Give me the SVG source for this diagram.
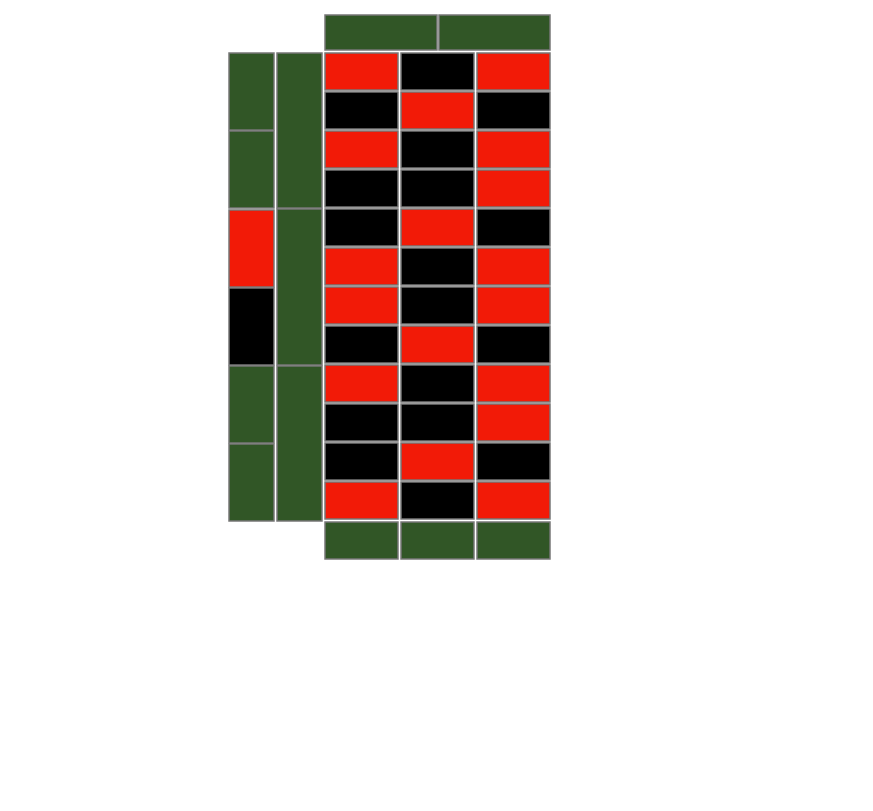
<svg xmlns="http://www.w3.org/2000/svg" width="873" height="811" viewBox="0 0 873 811">
<style>
rect{stroke:#777;stroke-width:1.5}
.g{fill:#315626}.r{fill:#f21a07}.b{fill:#000}
</style>
<rect x="0" y="0" width="873" height="811" fill="#fff" style="stroke:none"/>
<g id="top">
<rect class="g" x="325" y="15" width="112" height="35"/>
<rect class="g" x="439" y="15" width="111" height="35"/>
</g>
<g id="left-outer">
<rect class="g" x="229" y="53" width="45" height="77"/>
<rect class="g" x="229" y="131" width="45" height="77"/>
<rect class="r" x="229" y="210" width="45" height="77"/>
<rect class="b" x="229" y="288" width="45" height="77"/>
<rect class="g" x="229" y="366" width="45" height="77"/>
<rect class="g" x="229" y="444" width="45" height="77"/>
</g>
<g id="left-inner">
<rect class="g" x="277" y="53" width="45" height="155"/>
<rect class="g" x="277" y="209" width="45" height="156"/>
<rect class="g" x="277" y="366" width="45" height="155"/>
</g>
<g id="grid">
<rect class="r" x="325" y="53" width="73" height="37"/><rect class="b" x="401" y="53" width="73" height="37"/><rect class="r" x="477" y="53" width="73" height="37"/>
<rect class="b" x="325" y="92" width="73" height="37"/><rect class="r" x="401" y="92" width="73" height="37"/><rect class="b" x="477" y="92" width="73" height="37"/>
<rect class="r" x="325" y="131" width="73" height="37"/><rect class="b" x="401" y="131" width="73" height="37"/><rect class="r" x="477" y="131" width="73" height="37"/>
<rect class="b" x="325" y="170" width="73" height="37"/><rect class="b" x="401" y="170" width="73" height="37"/><rect class="r" x="477" y="170" width="73" height="37"/>
<rect class="b" x="325" y="209" width="73" height="37"/><rect class="r" x="401" y="209" width="73" height="37"/><rect class="b" x="477" y="209" width="73" height="37"/>
<rect class="r" x="325" y="248" width="73" height="37"/><rect class="b" x="401" y="248" width="73" height="37"/><rect class="r" x="477" y="248" width="73" height="37"/>
<rect class="r" x="325" y="287" width="73" height="37"/><rect class="b" x="401" y="287" width="73" height="37"/><rect class="r" x="477" y="287" width="73" height="37"/>
<rect class="b" x="325" y="326" width="73" height="37"/><rect class="r" x="401" y="326" width="73" height="37"/><rect class="b" x="477" y="326" width="73" height="37"/>
<rect class="r" x="325" y="365" width="73" height="37"/><rect class="b" x="401" y="365" width="73" height="37"/><rect class="r" x="477" y="365" width="73" height="37"/>
<rect class="b" x="325" y="404" width="73" height="37"/><rect class="b" x="401" y="404" width="73" height="37"/><rect class="r" x="477" y="404" width="73" height="37"/>
<rect class="b" x="325" y="443" width="73" height="37"/><rect class="r" x="401" y="443" width="73" height="37"/><rect class="b" x="477" y="443" width="73" height="37"/>
<rect class="r" x="325" y="482" width="73" height="37"/><rect class="b" x="401" y="482" width="73" height="37"/><rect class="r" x="477" y="482" width="73" height="37"/>
</g>
<g id="bottom">
<rect class="g" x="325" y="522" width="73" height="37"/><rect class="g" x="401" y="522" width="73" height="37"/><rect class="g" x="477" y="522" width="73" height="37"/>
</g>
<g id="connectors"/>
</svg>
